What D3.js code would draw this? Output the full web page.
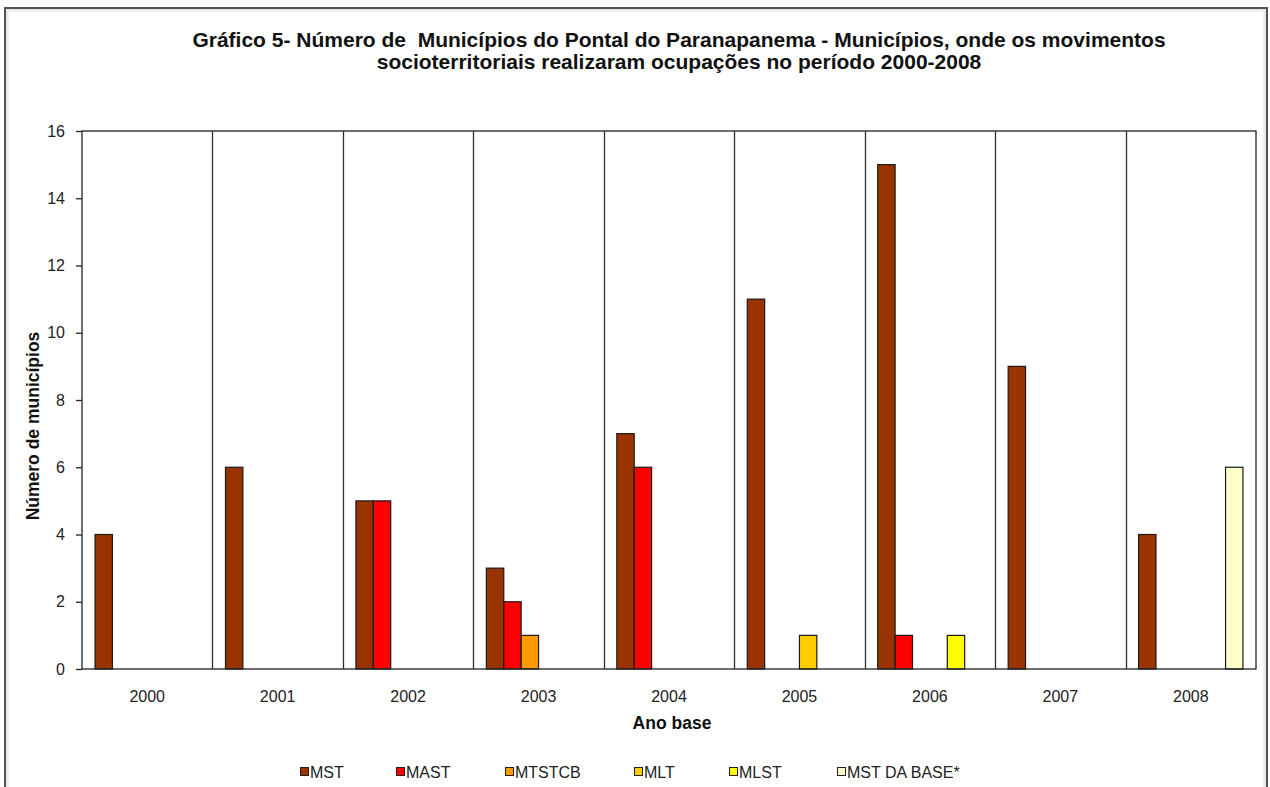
<!DOCTYPE html>
<html>
<head>
<meta charset="utf-8">
<script src="https://cdn.jsdelivr.net/npm/d3@7"></script>
<style>
  body { margin: 0; background: #fff; }
  svg { display: block; font-family: "Liberation Sans", Arial, sans-serif; }
</style>
</head>
<body>
<div id="chart"></div>
<script>
const years = ['2000', '2001', '2002', '2003', '2004', '2005', '2006', '2007', '2008'];
const seriesNames = ['MST', 'MAST', 'MTSTCB', 'MLT', 'MLST', 'MST DA BASE*'];
const seriesColors = ['#993300', '#ff0000', '#ff9900', '#ffcc00', '#ffff00', '#ffffcc'];

// one array per movement, one value per year
const mst = [4, 6, 5, 3, 7, 11, 15, 9, 4];
const mast = [0, 0, 5, 2, 6, 0, 1, 0, 0];
const mtstcb = [0, 0, 0, 1, 0, 0, 0, 0, 0];
const mlt = [0, 0, 0, 0, 0, 1, 0, 0, 0];
const mlst = [0, 0, 0, 0, 0, 0, 1, 0, 0];
const mstBase = [0, 0, 0, 0, 0, 0, 0, 0, 6];
const seriesValues = [mst, mast, mtstcb, mlt, mlst, mstBase];

const yTicks = [0, 2, 4, 6, 8, 10, 12, 14, 16];

const titleLines = [
  'Gráfico 5- Número de  Municípios do Pontal do Paranapanema - Municípios, onde os movimentos',
  'socioterritoriais realizaram ocupações no período 2000-2008',
];

const size = { width: 1270, height: 787 };
const margin = { top: 131, right: 14, bottom: 118, left: 82 };
const font = '"Liberation Sans", Arial, sans-serif';

const svg = d3
  .select('#chart')
  .append('svg')
  .attr('width', size.width)
  .attr('height', size.height);

// outer frame with the soft inner shadow
const shade = ['#e3e3e3', '#ececec', '#f3f3f3', '#f9f9f9'];
shade.forEach((c, i) => {
  svg
    .append('rect')
    .attr('x', 6.5 + i)
    .attr('y', 9.5 + i)
    .attr('width', 1259 - 2 * i)
    .attr('height', 800)
    .attr('fill', 'none')
    .attr('stroke', c);
});
svg
  .append('rect')
  .attr('x', 5)
  .attr('y', 8)
  .attr('width', 1262)
  .attr('height', 820)
  .attr('fill', 'none')
  .attr('stroke', '#555')
  .attr('stroke-width', 2);

// title
svg
  .append('text')
  .attr('text-anchor', 'middle')
  .attr('font-weight', 'bold')
  .attr('font-size', '21px')
  .attr('fill', '#111')
  .style('white-space', 'pre')
  .selectAll('tspan')
  .data(titleLines)
  .join('tspan')
  .attr('x', 679)
  .attr('y', (d, i) => 47 + i * 22)
  .text((d) => d);

const x0 = d3
  .scaleBand()
  .domain(years)
  .range([margin.left, size.width - margin.right]);

const x1 = d3
  .scaleBand()
  .domain(d3.range(seriesNames.length))
  .range([x0.bandwidth() * 0.1, x0.bandwidth() * 0.9]);

const y = d3
  .scaleLinear()
  .domain([0, 16])
  .range([size.height - margin.bottom, margin.top]);

const plotBottom = size.height - margin.bottom;

// category separators
svg
  .append('g')
  .selectAll('line')
  .data(years.slice(1))
  .join('line')
  .attr('x1', (d) => Math.round(x0(d)) + 0.5)
  .attr('x2', (d) => Math.round(x0(d)) + 0.5)
  .attr('y1', margin.top)
  .attr('y2', plotBottom)
  .attr('stroke', '#333')
  .attr('stroke-width', 1.3);

// bars
const bars = [];
seriesValues.forEach((vals, s) => {
  vals.forEach((v, i) => {
    if (v > 0) bars.push({ s, year: years[i], v });
  });
});

svg
  .append('g')
  .selectAll('rect')
  .data(bars)
  .join('rect')
  .attr('x', (d) => x0(d.year) + x1(d.s))
  .attr('width', x1.bandwidth())
  .attr('y', (d) => y(d.v))
  .attr('height', (d) => plotBottom - y(d.v))
  .attr('fill', (d) => seriesColors[d.s])
  .attr('stroke', '#1a1a1a')
  .attr('stroke-width', 1.2);

// plot border
svg
  .append('rect')
  .attr('x', margin.left)
  .attr('y', margin.top)
  .attr('width', size.width - margin.left - margin.right)
  .attr('height', plotBottom - margin.top)
  .attr('fill', 'none')
  .attr('stroke', '#222')
  .attr('stroke-width', 1.3);

// y axis
const yAxis = svg
  .append('g')
  .attr('transform', `translate(${margin.left},0)`)
  .call(d3.axisLeft(y).tickValues(yTicks).tickSize(6).tickPadding(11));
yAxis.select('.domain').remove();
yAxis.selectAll('.tick line').attr('stroke', '#222').attr('stroke-width', 1.3);
yAxis
  .selectAll('.tick text')
  .attr('font-size', '16px')
  .attr('font-family', font)
  .attr('fill', '#222');

// x axis labels
const xAxis = svg
  .append('g')
  .attr('transform', `translate(0,${plotBottom})`)
  .call(d3.axisBottom(x0).tickSize(0).tickPadding(22));
xAxis.select('.domain').remove();
xAxis
  .selectAll('.tick text')
  .attr('font-size', '16px')
  .attr('font-family', font)
  .attr('fill', '#222');

// axis titles
svg
  .append('text')
  .attr('x', 672)
  .attr('y', 729)
  .attr('text-anchor', 'middle')
  .attr('font-weight', 'bold')
  .attr('font-size', '17.5px')
  .attr('fill', '#111')
  .text('Ano base');

svg
  .append('text')
  .attr('transform', 'translate(39,426) rotate(-90)')
  .attr('text-anchor', 'middle')
  .attr('font-weight', 'bold')
  .attr('font-size', '17.5px')
  .attr('fill', '#111')
  .text('Número de municípios');

// legend
const legendX = [300, 396, 505, 634, 729, 837];
const legend = svg
  .append('g')
  .selectAll('g')
  .data(seriesNames)
  .join('g')
  .attr('transform', (d, i) => `translate(${legendX[i]},767)`);
legend
  .append('rect')
  .attr('x', 0.5)
  .attr('y', 0.5)
  .attr('width', 8)
  .attr('height', 8)
  .attr('fill', (d, i) => seriesColors[i])
  .attr('stroke', '#222');
legend
  .append('text')
  .attr('x', 10)
  .attr('y', 10.5)
  .attr('font-size', '16px')
  .attr('fill', '#222')
  .text((d) => d);
</script>
</body>
</html>
